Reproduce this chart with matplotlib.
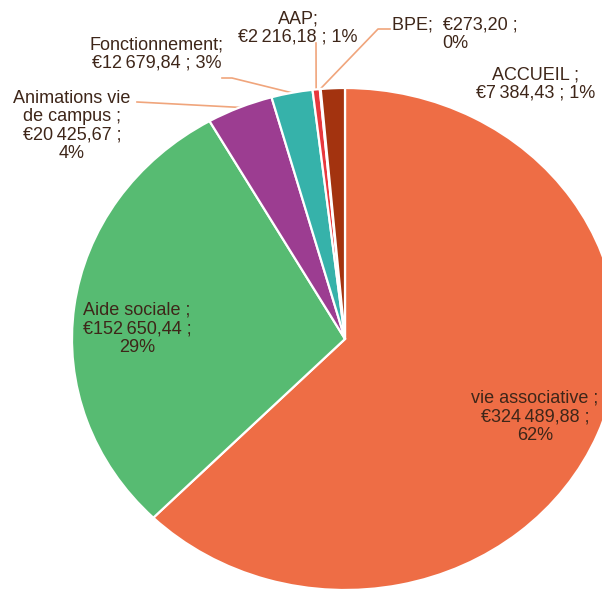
import numpy as np
import matplotlib
matplotlib.use("Agg")
import matplotlib.pyplot as plt

labels = ["vie associative", "Aide sociale", "Animations vie de campus",
          "Fonctionnement", "AAP", "BPE", "ACCUEIL"]
values = [324489.88, 152650.44, 20425.67, 12679.84, 2216.18, 273.20, 7384.43]
colors = ["#EE6D45", "#57BB72", "#9C3D91", "#36B2AA", "#E8383D", "#F29A6B", "#A3330F"]
label_texts = [
    "vie associative ;\n€324\u2009489,88 ;\n62%",
    "Aide sociale ;\n€152\u2009650,44 ;\n29%",
    "Animations vie\nde campus ;\n€20\u2009425,67 ;\n4%",
    "Fonctionnement;\n€12\u2009679,84 ; 3%",
    "AAP;\n€2\u2009216,18 ; 1%",
    "BPE;  €273,20 ;\n0%",
    "ACCUEIL ;\n€7\u2009384,43 ; 1%",
]

W, H = 602, 589
CX, CY, RX, RY = 345, 339, 273, 251


def px(x, y):
    return (x - CX) / RX, (CY - y) / RY


text_color = "#3E2619"
line_color = "#F0A57C"

plt.rcParams['font.family'] = ['Liberation Sans', 'DejaVu Sans']

fig = plt.figure(figsize=(W / 100, H / 100), dpi=100)
ax = fig.add_axes([0, 0, 1, 1])
wedges, _ = ax.pie(values, colors=colors, startangle=90, counterclock=False,
                   wedgeprops=dict(edgecolor="white", linewidth=1.6))
ax.set_aspect("auto")
x0, _ = px(0, 0)
x1, _ = px(W, 0)
_, y0 = px(0, H)
_, y1 = px(0, 0)
ax.set_xlim(x0, x1)
ax.set_ylim(y0, y1)
ax.axis("off")

# label centres (pixels) and leader line start points
label_pos = [(535, 417), (137, 329), (72, 126), (157, 54), (298, 28), (455, 34), (536, 84)]
leader = {
    2: [(137, 102)],
    3: [(222, 78), (232, 78)],
    4: [(316, 43)],
    5: [(390, 29), (378, 29)],
}

for i, w in enumerate(wedges):
    tx, ty = px(*label_pos[i])
    ax.text(tx, ty, label_texts[i], ha="center", va="center", fontsize=13,
            color=text_color, linespacing=1.12)
    if i in leader:
        mid = np.deg2rad((w.theta1 + w.theta2) / 2)
        pts = [px(*p) for p in leader[i]] + [(np.cos(mid), np.sin(mid))]
        xs, ys = zip(*pts)
        ax.plot(xs, ys, color=line_color, linewidth=1.2, zorder=0)

fig.savefig("out.png", dpi=100)
